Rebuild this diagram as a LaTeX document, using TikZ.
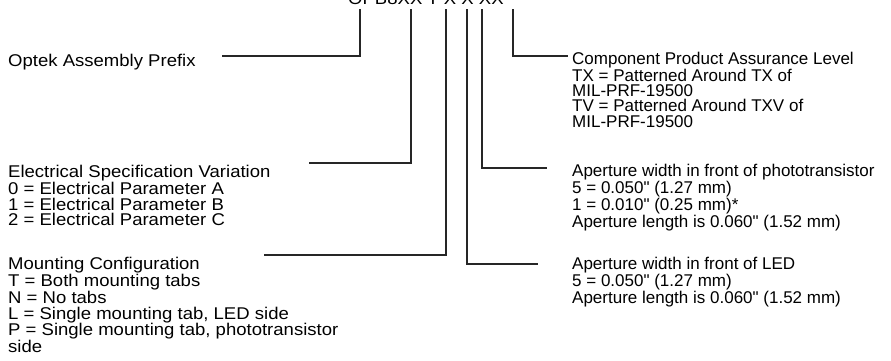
\documentclass[tikz,border=0pt]{standalone}
\usepackage{fontspec}
\setmainfont{Liberation Sans}
\newfontfamily\lfont{Liberation Sans}[FakeStretch=1.09]
\newfontfamily\rfont{Liberation Sans}[FakeStretch=1.0]
\begin{document}
\begin{tikzpicture}[x=1pt,y=-1pt,
  lblock/.style={anchor=north west,inner sep=0pt,align=left,font=\lfont\fontsize{17}{15.8}\selectfont},
  rblock/.style={anchor=north west,inner sep=0pt,align=left,font=\rfont\fontsize{17}{15.3}\selectfont},
  lead/.style={draw=black!85,line width=1.1pt}]
\useasboundingbox (0,0) rectangle (891,360);
% part number (cut off at top, as in the original)
\node[anchor=base west,inner sep=0pt,font=\lfont\fontsize{17}{17}\selectfont] (pn) at (348,4) {OPB8XX T X X XX};
\coordinate (pA) at (360,9);
\coordinate (pB) at (411,9);
\coordinate (pC) at (446,9);
\coordinate (pD) at (467,9);
\coordinate (pE) at (482,9);
\coordinate (pF) at (513,9);
% text blocks
\node[lblock] (optek) at (8,54) {Optek Assembly Prefix};
\node[lblock] (elec) at (8,165) {Electrical Specification Variation\\0 = Electrical Parameter A\\1 = Electrical Parameter B\\2 = Electrical Parameter C};
\node[lblock] (mount) at (8,257) {Mounting Configuration\\T = Both mounting tabs\\N = No tabs\\L = Single mounting tab, LED side\\P = Single mounting tab, phototransistor\\side};
\node[rblock] (comp) at (572,52) {Component Product Assurance Level\\TX = Patterned Around TX of\\MIL-PRF-19500\\TV = Patterned Around TXV of\\MIL-PRF-19500};
\node[rblock] (photo) at (572,164) {Aperture width in front of phototransistor\\5 = 0.050" (1.27 mm)\\1 = 0.010" (0.25 mm)*\\Aperture length is 0.060" (1.52 mm)};
\node[rblock] (led) at (572,257) {Aperture width in front of LED\\5 = 0.050" (1.27 mm)\\Aperture length is 0.060" (1.52 mm)};
% free ends
\coordinate (eA) at (222,56);
\coordinate (eB) at (309,163);
\coordinate (eC) at (264,255);
\coordinate (eD) at (538,264);
\coordinate (eE) at (547,168);
\coordinate (eF) at (568,56);
% leaders
\draw[lead] (pA) |- (eA);
\draw[lead] (pB) |- (eB);
\draw[lead] (pC) |- (eC);
\draw[lead] (pD) |- (eD);
\draw[lead] (pE) |- (eE);
\draw[lead] (pF) |- (eF);
\end{tikzpicture}
\end{document}
